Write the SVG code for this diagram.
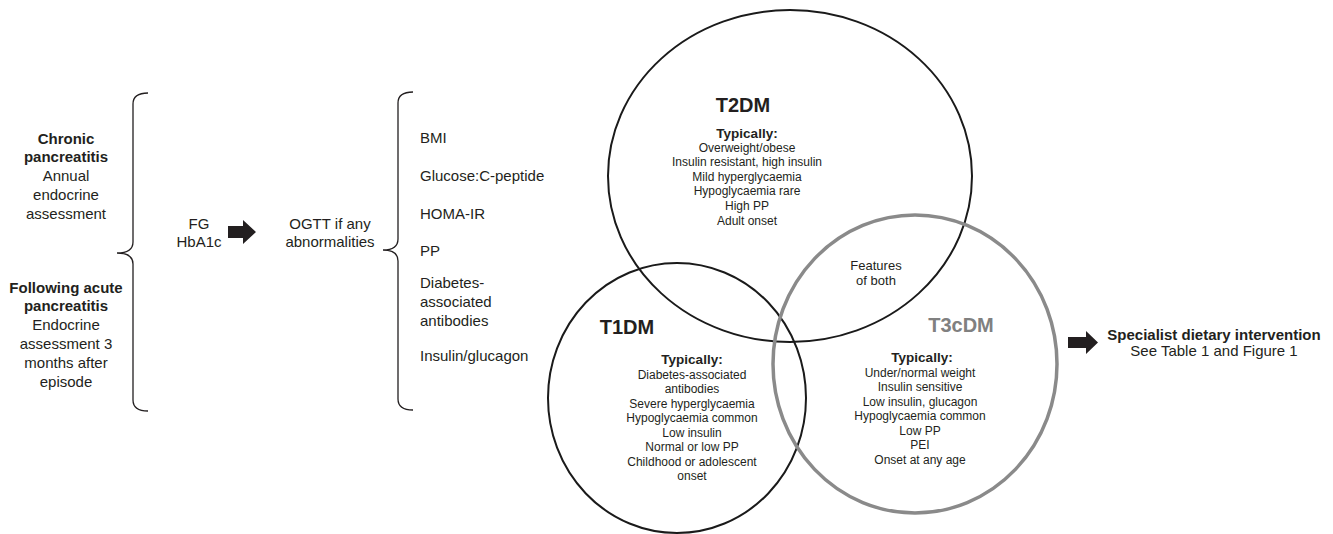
<svg xmlns="http://www.w3.org/2000/svg" width="1333" height="534" viewBox="0 0 1333 534">
<style>
text{font-family:"Liberation Sans",Arial,sans-serif;fill:#231f20}
.t15{font-size:15px}
.b{font-weight:bold}
.c{text-anchor:middle}
.s12{font-size:12px}
.typ{font-size:13.5px;font-weight:bold}
.title{font-size:20px;font-weight:bold}
.brace{fill:none;stroke:#231f20;stroke-width:1.3}
.arrow{fill:#231f20}
.ring{fill:none;stroke:#1a1a1a;stroke-width:2}
.ring3{fill:none;stroke:#8a8a8a;stroke-width:3.5}
</style>
<rect width="1333" height="534" fill="#ffffff"/>

<g id="chronic">
<text class="t15 c" x="66" y="143.5"><tspan class="b" x="66">Chronic</tspan><tspan class="b" x="66" dy="18.8">pancreatitis</tspan><tspan x="66" dy="18.8">Annual</tspan><tspan x="66" dy="18.8">endocrine</tspan><tspan x="66" dy="18.8">assessment</tspan></text>
</g>
<g id="acute">
<text class="t15 c" x="66" y="292.5"><tspan class="b" x="66">Following acute</tspan><tspan class="b" x="66" dy="18.8">pancreatitis</tspan><tspan x="66" dy="18.8">Endocrine</tspan><tspan x="66" dy="18.8">assessment 3</tspan><tspan x="66" dy="18.8">months after</tspan><tspan x="66" dy="18.8">episode</tspan></text>
</g>
<g id="brace1">
<path class="brace" d="M148,93 Q133,93 133,104 L133,242 Q133,253 117,253 Q133,253 133,264 L133,400 Q133,411 148,411"/>
</g>
<g id="fg">
<text class="t15 c" x="199" y="228.5"><tspan x="199">FG</tspan><tspan x="199" dy="18.5">HbA1c</tspan></text>
</g>
<g id="ogtt">
<text class="t15 c" x="330" y="228.5"><tspan x="330">OGTT if any</tspan><tspan x="330" dy="18.5">abnormalities</tspan></text>
</g>
<g id="brace2">
<path class="brace" d="M413,92 Q398,92 398,103 L398,239 Q398,250 383,250 Q398,250 398,261 L398,399 Q398,410 413,410"/>
</g>
<g id="tests">
<text class="t15" x="420" y="142.5">BMI</text>
<text class="t15" x="420" y="180.5">Glucose:C-peptide</text>
<text class="t15" x="420" y="218.5">HOMA-IR</text>
<text class="t15" x="420" y="255.5">PP</text>
<text class="t15" x="420" y="287.5"><tspan x="420">Diabetes-</tspan><tspan x="420" dy="19">associated</tspan><tspan x="420" dy="19">antibodies</tspan></text>
<text class="t15" x="420" y="360.5">Insulin/glucagon</text>
</g>

<g id="t2dm">
<ellipse class="ring" cx="790" cy="176" rx="182" ry="166"/>
<text class="title c" x="743" y="112">T2DM</text>
<text class="typ c" x="747" y="138">Typically:</text>
<text class="s12 c" x="747" y="151.5"><tspan x="747">Overweight/obese</tspan><tspan x="747" dy="14.6">Insulin resistant, high insulin</tspan><tspan x="747" dy="14.6">Mild hyperglycaemia</tspan><tspan x="747" dy="14.6">Hypoglycaemia rare</tspan><tspan x="747" dy="14.6">High PP</tspan><tspan x="747" dy="14.6">Adult onset</tspan></text>
</g>
<g id="t1dm">
<ellipse class="ring" cx="677" cy="398" rx="129" ry="135"/>
<text class="title c" x="627" y="334">T1DM</text>
<text class="typ c" x="692" y="364">Typically:</text>
<text class="s12 c" x="692" y="378.5"><tspan x="692">Diabetes-associated</tspan><tspan x="692" dy="14.5">antibodies</tspan><tspan x="692" dy="14.5">Severe hyperglycaemia</tspan><tspan x="692" dy="14.5">Hypoglycaemia common</tspan><tspan x="692" dy="14.5">Low insulin</tspan><tspan x="692" dy="14.5">Normal or low PP</tspan><tspan x="692" dy="14.5">Childhood or adolescent</tspan><tspan x="692" dy="14.5">onset</tspan></text>
</g>
<g id="t3cdm">
<ellipse class="ring3" cx="915" cy="364" rx="142" ry="149"/>
<text class="title c" x="961" y="332" style="fill:#808080">T3cDM</text>
<text class="typ c" x="922" y="362">Typically:</text>
<text class="s12 c" x="920" y="376.5"><tspan x="920">Under/normal weight</tspan><tspan x="920" dy="14.5">Insulin sensitive</tspan><tspan x="920" dy="14.5">Low insulin, glucagon</tspan><tspan x="920" dy="14.5">Hypoglycaemia common</tspan><tspan x="920" dy="14.5">Low PP</tspan><tspan x="920" dy="14.5">PEI</tspan><tspan x="920" dy="14.5">Onset at any age</tspan></text>
</g>
<g id="both">
<text class="c" style="font-size:13px" x="876" y="269.5"><tspan x="876">Features</tspan><tspan x="876" dy="15.5">of both</tspan></text>
</g>
<g id="specialist">
<text class="t15 c" x="1214" y="339.5"><tspan class="b" x="1214">Specialist dietary intervention</tspan><tspan x="1214" dy="16">See Table 1 and Figure 1</tspan></text>
</g>

<g id="connectors">
<path class="arrow" d="M228,226 L243,226 L243,220 L256,232 L243,244 L243,238 L228,238 Z"/>
<path class="arrow" d="M1068,337 L1086,337 L1086,331 L1098,342.5 L1086,354 L1086,348 L1068,348 Z"/>
</g>
</svg>
